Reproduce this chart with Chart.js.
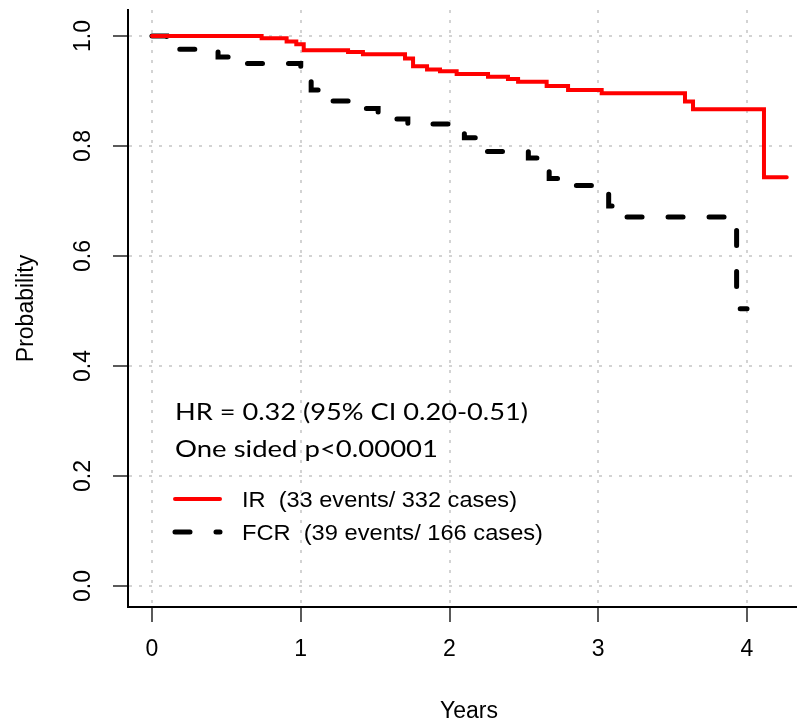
<!DOCTYPE html>
<html>
<head>
<meta charset="utf-8">
<script src="https://cdn.jsdelivr.net/npm/chart.js@4/dist/chart.umd.min.js"></script>
<style>
html, body { margin: 0; padding: 0; background: #ffffff; }
#wrap { width: 797px; height: 720px; position: relative; }
</style>
</head>
<body>
<div id="wrap"><canvas id="c" width="797" height="720"></canvas></div>
<script>
// ---- data ----
const irTimes  = [0, 0.737, 0.905, 0.97, 1.02, 1.318, 1.418, 1.701, 1.755, 1.849, 1.936, 2.048, 2.259, 2.393, 2.461, 2.653, 2.797, 3.023, 3.583, 3.637, 4.114, 4.267];
const irSurv   = [1.0, 0.996, 0.990, 0.985, 0.974, 0.971, 0.967, 0.959, 0.945, 0.939, 0.936, 0.931, 0.926, 0.922, 0.917, 0.909, 0.902, 0.896, 0.881, 0.867, 0.743, 0.743];
const fcrTimes = [0, 0.098, 0.444, 0.58, 1.0, 1.03, 1.07, 1.16, 1.38, 1.52, 1.62, 1.72, 2.10, 2.21, 2.53, 2.67, 2.79, 3.07, 3.14, 3.93, 4.0];
const fcrSurv  = [1.0, 0.976, 0.962, 0.950, 0.941, 0.920, 0.902, 0.882, 0.868, 0.858, 0.849, 0.840, 0.815, 0.790, 0.778, 0.741, 0.728, 0.691, 0.671, 0.504, 0.504];

const xTicks = [0, 1, 2, 3, 4];
const xTickLabels = ['0', '1', '2', '3', '4'];
const yTicks = [0, 0.2, 0.4, 0.6, 0.8, 1.0];
const yTickLabels = ['0.0', '0.2', '0.4', '0.6', '0.8', '1.0'];
const seriesNames = ['IR  (33 events/ 332 cases)', 'FCR  (39 events/ 166 cases)'];
const annotationLines = ['HR = 0.32 (95% CI 0.20-0.51)', 'One sided p<0.00001'];
const xTitle = 'Years';
const yTitle = 'Probability';

const RED = '#ff0000';
const BLACK = '#000000';
const BLACK_DASH = [15, 26];

function fitText(ctx, text, x, y, targetW) {
  const w = ctx.measureText(text).width;
  ctx.save();
  ctx.translate(x, y);
  ctx.scale(targetW / w, 1);
  ctx.fillText(text, 0, 0);
  ctx.restore();
}

const textPlugin = {
  id: 'texts',
  afterDraw(chart) {
    const { ctx, scales: { x, y } } = chart;
    ctx.save();
    ctx.fillStyle = '#000';

    // y tick labels (rotated, like R's default las=0)
    ctx.font = '23px "Liberation Sans", Arial, sans-serif';
    ctx.textAlign = 'center';
    ctx.textBaseline = 'middle';
    yTicks.forEach((v, i) => {
      const py = y.getPixelForValue(v);
      ctx.save();
      ctx.translate(84, py);
      ctx.rotate(-Math.PI / 2);
      ctx.fillText(yTickLabels[i], 0, 0);
      ctx.restore();
    });

    // axis titles
    ctx.textBaseline = 'alphabetic';
    ctx.textAlign = 'center';
    ctx.fillText(xTitle, 469, 718);
    ctx.save();
    ctx.translate(33, (chart.chartArea.top + chart.chartArea.bottom) / 2);
    ctx.rotate(-Math.PI / 2);
    ctx.fillText(yTitle, 0, 0);
    ctx.restore();

    // HR annotation
    ctx.textAlign = 'left';
    ctx.font = '23px Lato, "Open Sans", sans-serif';
    fitText(ctx, annotationLines[0], 175, 420, 353);
    fitText(ctx, annotationLines[1], 175, 457, 263);

    // legend
    const ds = chart.data.datasets;
    const lx0 = 175, lx1 = 220;
    const rows = [499, 532];
    ctx.lineCap = 'round';
    ctx.strokeStyle = ds[0].borderColor;
    ctx.lineWidth = ds[0].borderWidth;
    ctx.setLineDash([]);
    ctx.beginPath(); ctx.moveTo(lx0, rows[0]); ctx.lineTo(lx1, rows[0]); ctx.stroke();
    ctx.strokeStyle = ds[1].borderColor;
    ctx.lineWidth = ds[1].borderWidth;
    ctx.setLineDash(ds[1].borderDash);
    ctx.beginPath(); ctx.moveTo(lx0, rows[1]); ctx.lineTo(lx1, rows[1]); ctx.stroke();
    ctx.setLineDash([]);

    ctx.font = '22px "Liberation Sans", Arial, sans-serif';
    fitText(ctx, ds[0].label, 242, rows[0] + 8, 275);
    fitText(ctx, ds[1].label, 242, rows[1] + 8, 301);
    ctx.restore();
  }
};

const chart = new Chart(document.getElementById('c'), {
  type: 'line',
  data: {
    datasets: [
      {
        label: seriesNames[0],
        data: irTimes.map((t, i) => ({ x: t, y: irSurv[i] })),
        borderColor: RED,
        borderWidth: 4,
        borderCapStyle: 'round',
        stepped: 'before',
        pointRadius: 0,
        fill: false
      },
      {
        label: seriesNames[1],
        data: fcrTimes.map((t, i) => ({ x: t, y: fcrSurv[i] })),
        borderColor: BLACK,
        borderWidth: 5,
        borderDash: BLACK_DASH,
        borderCapStyle: 'round',
        stepped: 'before',
        pointRadius: 0,
        fill: false
      }
    ]
  },
  options: {
    responsive: false,
    animation: false,
    devicePixelRatio: 1,
    layout: { padding: { left: 0, right: 0, top: 10, bottom: 0 } },
    plugins: { legend: { display: false }, tooltip: { enabled: false } },
    scales: {
      x: {
        type: 'linear',
        min: -0.1613,
        max: 4.336,
        afterBuildTicks: (a) => { a.ticks = xTicks.map(v => ({ value: v })); },
        afterFit: (s) => { s.height = 113; },
        ticks: {
          font: { family: '"Liberation Sans", Arial, sans-serif', size: 23 },
          color: '#000',
          padding: 14,
          autoSkip: false,
          maxRotation: 0,
          callback: (v) => xTickLabels[xTicks.indexOf(v)]
        },
        grid: { color: '#d3d3d3', lineWidth: 2, tickLength: 15, tickColor: '#000', tickWidth: 1.3, tickBorderDash: [] },
        border: { display: true, color: '#000', width: 2, dash: [3, 7] }
      },
      y: {
        type: 'linear',
        min: -0.0382,
        max: 1.0473,
        afterBuildTicks: (a) => { a.ticks = yTicks.map(v => ({ value: v })); },
        afterFit: (s) => { s.width = 128; },
        ticks: { display: false },
        grid: { color: '#d3d3d3', lineWidth: 2, tickLength: 15, tickColor: '#000', tickWidth: 1.3, tickBorderDash: [] },
        border: { display: true, color: '#000', width: 2, dash: [3, 7] }
      }
    }
  },
  plugins: [textPlugin]
});
</script>
</body>
</html>
